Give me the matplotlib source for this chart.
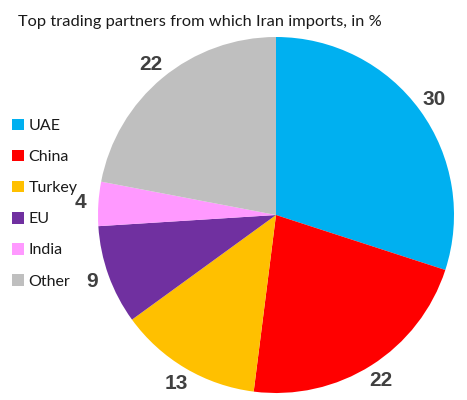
import matplotlib
matplotlib.use("Agg")
import matplotlib.pyplot as plt
from matplotlib.patches import Patch

categories = ["UAE", "China", "Turkey", "EU", "India", "Other"]
values = [30, 22, 13, 9, 4, 22]
colors = ["#00B0F0", "#FF0000", "#FFC000", "#7030A0", "#FF99FF", "#BFBFBF"]
title = "Top trading partners from which Iran imports, in %"

W, H = 467, 400
fig = plt.figure(figsize=(W / 100, H / 100), dpi=100)

cx, cy, r = 276, 215, 178
ax = fig.add_axes([(cx - r) / W, (H - cy - r) / H, 2 * r / W, 2 * r / H])
wedges, texts = ax.pie(values, colors=colors, startangle=90, counterclock=False,
                       labels=[str(v) for v in values], labeldistance=1.1,
                       wedgeprops=dict(linewidth=0))
for t in texts:
    t.set_fontsize(15)
    t.set_fontweight("bold")
    t.set_color("#404040")
    t.set_family("Liberation Sans")
    t.set_ha("center")
    t.set_va("center")
ax.set_xlim(-1, 1)
ax.set_ylim(-1, 1)
ax.set_aspect("equal")
ax.axis("off")

fig.text(18 / W, 1 - 22 / H, title, fontsize=11.8, family="Lato", color="#1a1a1a",
         ha="left", va="center")

handles = [Patch(facecolor=c, edgecolor="none") for c in colors]
fig.legend(handles, categories, loc="upper left", bbox_to_anchor=(12 / W, 1 - 119 / H),
           frameon=False, prop=dict(family="Lato", size=11.5), handlelength=0.72,
           handleheight=0.72, handletextpad=0.3, labelspacing=1.05, borderaxespad=0,
           borderpad=0, labelcolor="#1a1a1a")

fig.savefig("out.png", dpi=100)
